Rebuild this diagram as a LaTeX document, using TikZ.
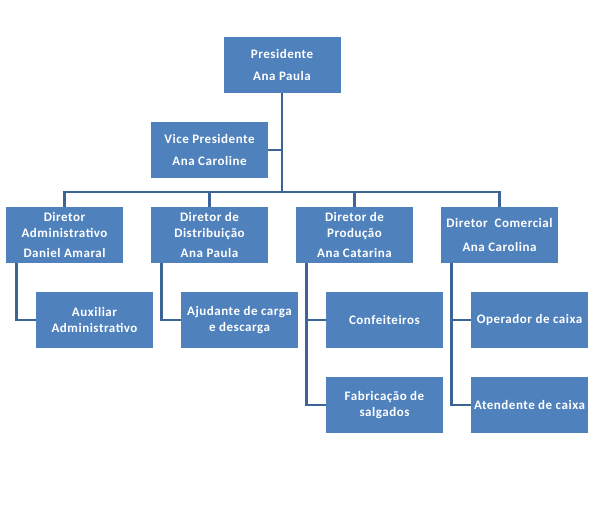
\documentclass[tikz,border=0pt]{standalone}
\usepackage{fontspec}
\setmainfont{Carlito}[LetterSpace=4]
\usepackage{tikz}
\usetikzlibrary{positioning,calc}
\definecolor{orgazul}{RGB}{79,129,189}
\definecolor{orglinha}{RGB}{60,100,150}
\tikzset{
  orgbox/.style={
    rectangle, draw=none, fill=orgazul, text=white,
    minimum width=117pt, minimum height=56pt, inner sep=0pt,
    align=center, font=\fontsize{13}{15.5}\selectfont\bfseries
  },
  orgline/.style={orglinha, line width=2.5pt}
}
\begin{document}
\begin{tikzpicture}[x=1pt, y=-1pt]
  \useasboundingbox (0,0) rectangle (598,519);
  % topo
  \node[orgbox] (pres) at (282,65) {Presidente\\[7pt]Ana Paula};
  \node[orgbox] (vice) at (209.5,150) {Vice Presidente\\[7pt]Ana Caroline};
  \coordinate (bus) at (282,192);
  % diretores
  \node[orgbox] (dadm) at (64.5,235) {Diretor\\Administrativo\\[5pt]Daniel Amaral};
  \node[orgbox] (ddis) at (209.5,235) {Diretor de\\Distribuição\\[5pt]Ana Paula};
  \node[orgbox] (dpro) at (354.5,235) {Diretor de\\Produção\\[5pt]Ana Catarina};
  \node[orgbox] (dcom) at (499.5,235) {Diretor\ \ Comercial\\[8pt]Ana Carolina};
  % subordinados
  \node[orgbox] (aux) at (94.5,320) {Auxiliar\\Administrativo};
  \node[orgbox] (ajud) at (239.5,320) {Ajudante de carga\\e descarga};
  \node[orgbox] (conf) at (384.5,320) {Confeiteiros};
  \node[orgbox] (fabr) at (384.5,405) {Fabricação de\\salgados};
  \node[orgbox] (oper) at (529.5,320) {Operador de caixa};
  \node[orgbox] (aten) at (529.5,405) {Atendente de caixa};
  % ligacoes
  \draw[orgline] (pres.south) -- (bus);
  \draw[orgline] (vice.east) -- (vice.east -| pres.south);
  \draw[orgline] (dadm.north) |- (bus) -| (dcom.north);
  \draw[orgline] (ddis.north) -- (ddis.north |- bus);
  \draw[orgline] (dpro.north) -- (dpro.north |- bus);
  \draw[orgline] ([xshift=10.5pt]dadm.south west) |- (aux.west);
  \draw[orgline] ([xshift=10.5pt]ddis.south west) |- (ajud.west);
  \draw[orgline] ([xshift=10.5pt]dpro.south west) |- (fabr.west);
  \draw[orgline] ([xshift=10.5pt]dpro.south west) |- (conf.west);
  \draw[orgline] ([xshift=10.5pt]dcom.south west) |- (aten.west);
  \draw[orgline] ([xshift=10.5pt]dcom.south west) |- (oper.west);
\end{tikzpicture}
\end{document}
